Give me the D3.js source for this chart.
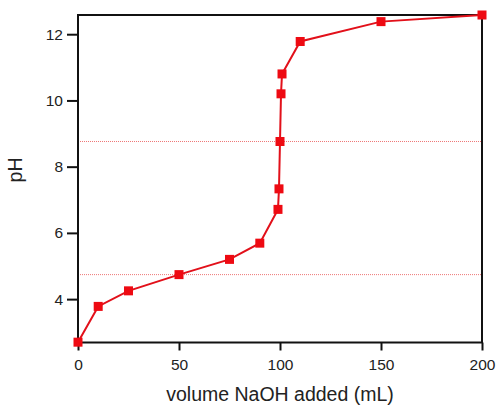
<!DOCTYPE html>
<html>
<head>
<meta charset="utf-8">
<script src="https://cdn.jsdelivr.net/npm/d3@7"></script>
<style>
  body { margin: 0; background: #fff; }
  text { font-family: "Liberation Sans", Arial, sans-serif; fill: #222; }
</style>
</head>
<body>
<div id="chart"></div>
<script>
var volume_naoh = [0, 10, 25, 50, 75, 90, 99, 99.5, 100, 100.5, 101, 110, 150, 200];
var ph_values = [2.7, 3.78, 4.25, 4.74, 5.2, 5.69, 6.71, 7.33, 8.76, 10.2, 10.8, 11.78, 12.38, 12.58];
var ref_lines = [4.74, 8.76];
var x_ticks = [0, 50, 100, 150, 200];
var y_ticks = [4, 6, 8, 10, 12];

var svg_width = 497;
var svg_height = 405;
var margin = { top: 15, right: 15, bottom: 62, left: 78 };
var width = 482 - margin.left;
var height = 342.5 - margin.top;

var svg = d3.select('#chart')
  .append('svg')
  .attr('width', svg_width)
  .attr('height', svg_height);

var chart_group = svg.append('g')
  .attr('transform', `translate(${margin.left}, ${margin.top})`);

var x_scale = d3.scaleLinear().domain([0, 200]).range([0, width]);
var y_scale = d3.scaleLinear().domain([2.69, 12.58]).range([height, 0]);

// dotted reference lines
chart_group.selectAll('.ref')
  .data(ref_lines)
  .enter()
  .append('line')
  .attr('x1', 0)
  .attr('x2', width)
  .attr('y1', d => y_scale(d))
  .attr('y2', d => y_scale(d))
  .attr('stroke', '#ee7777')
  .attr('stroke-width', 1)
  .attr('stroke-dasharray', '1,1');

// frame
chart_group.append('rect')
  .attr('width', width)
  .attr('height', height)
  .attr('fill', 'none')
  .attr('stroke', '#111')
  .attr('stroke-width', 2);

// x axis
var x_axis = chart_group.append('g')
  .attr('transform', `translate(0, ${height})`)
  .call(d3.axisBottom(x_scale).tickValues(x_ticks).tickSize(8).tickPadding(8));

// y axis
var y_axis = chart_group.append('g')
  .call(d3.axisLeft(y_scale).tickValues(y_ticks).tickSize(11).tickPadding(4));

[x_axis, y_axis].forEach(function(ax) {
  ax.select('.domain').remove();
  ax.selectAll('line').attr('stroke', '#111').attr('stroke-width', 2);
  ax.selectAll('text')
    .attr('font-size', '15.5px')
    .attr('font-family', '"Liberation Sans", Arial, sans-serif')
    .attr('fill', '#222');
});

// line
var ph_line = d3.line()
  .x((d, i) => x_scale(volume_naoh[i]))
  .y(d => y_scale(d));

chart_group.append('path')
  .datum(ph_values)
  .attr('d', ph_line)
  .attr('fill', 'none')
  .attr('stroke', '#e2101a')
  .attr('stroke-width', 2);

// square markers
chart_group.selectAll('.marker')
  .data(ph_values)
  .enter()
  .append('rect')
  .attr('x', (d, i) => x_scale(volume_naoh[i]) - 4.5)
  .attr('y', d => y_scale(d) - 4.5)
  .attr('width', 9)
  .attr('height', 9)
  .attr('fill', '#ee0a12');

// axis titles
svg.append('text')
  .attr('x', 280)
  .attr('y', 401)
  .attr('text-anchor', 'middle')
  .attr('font-size', '19.5px')
  .text('volume NaOH added (mL)');

svg.append('text')
  .attr('transform', 'translate(22, 170) rotate(-90)')
  .attr('text-anchor', 'middle')
  .attr('font-size', '19.5px')
  .text('pH');
</script>
</body>
</html>
